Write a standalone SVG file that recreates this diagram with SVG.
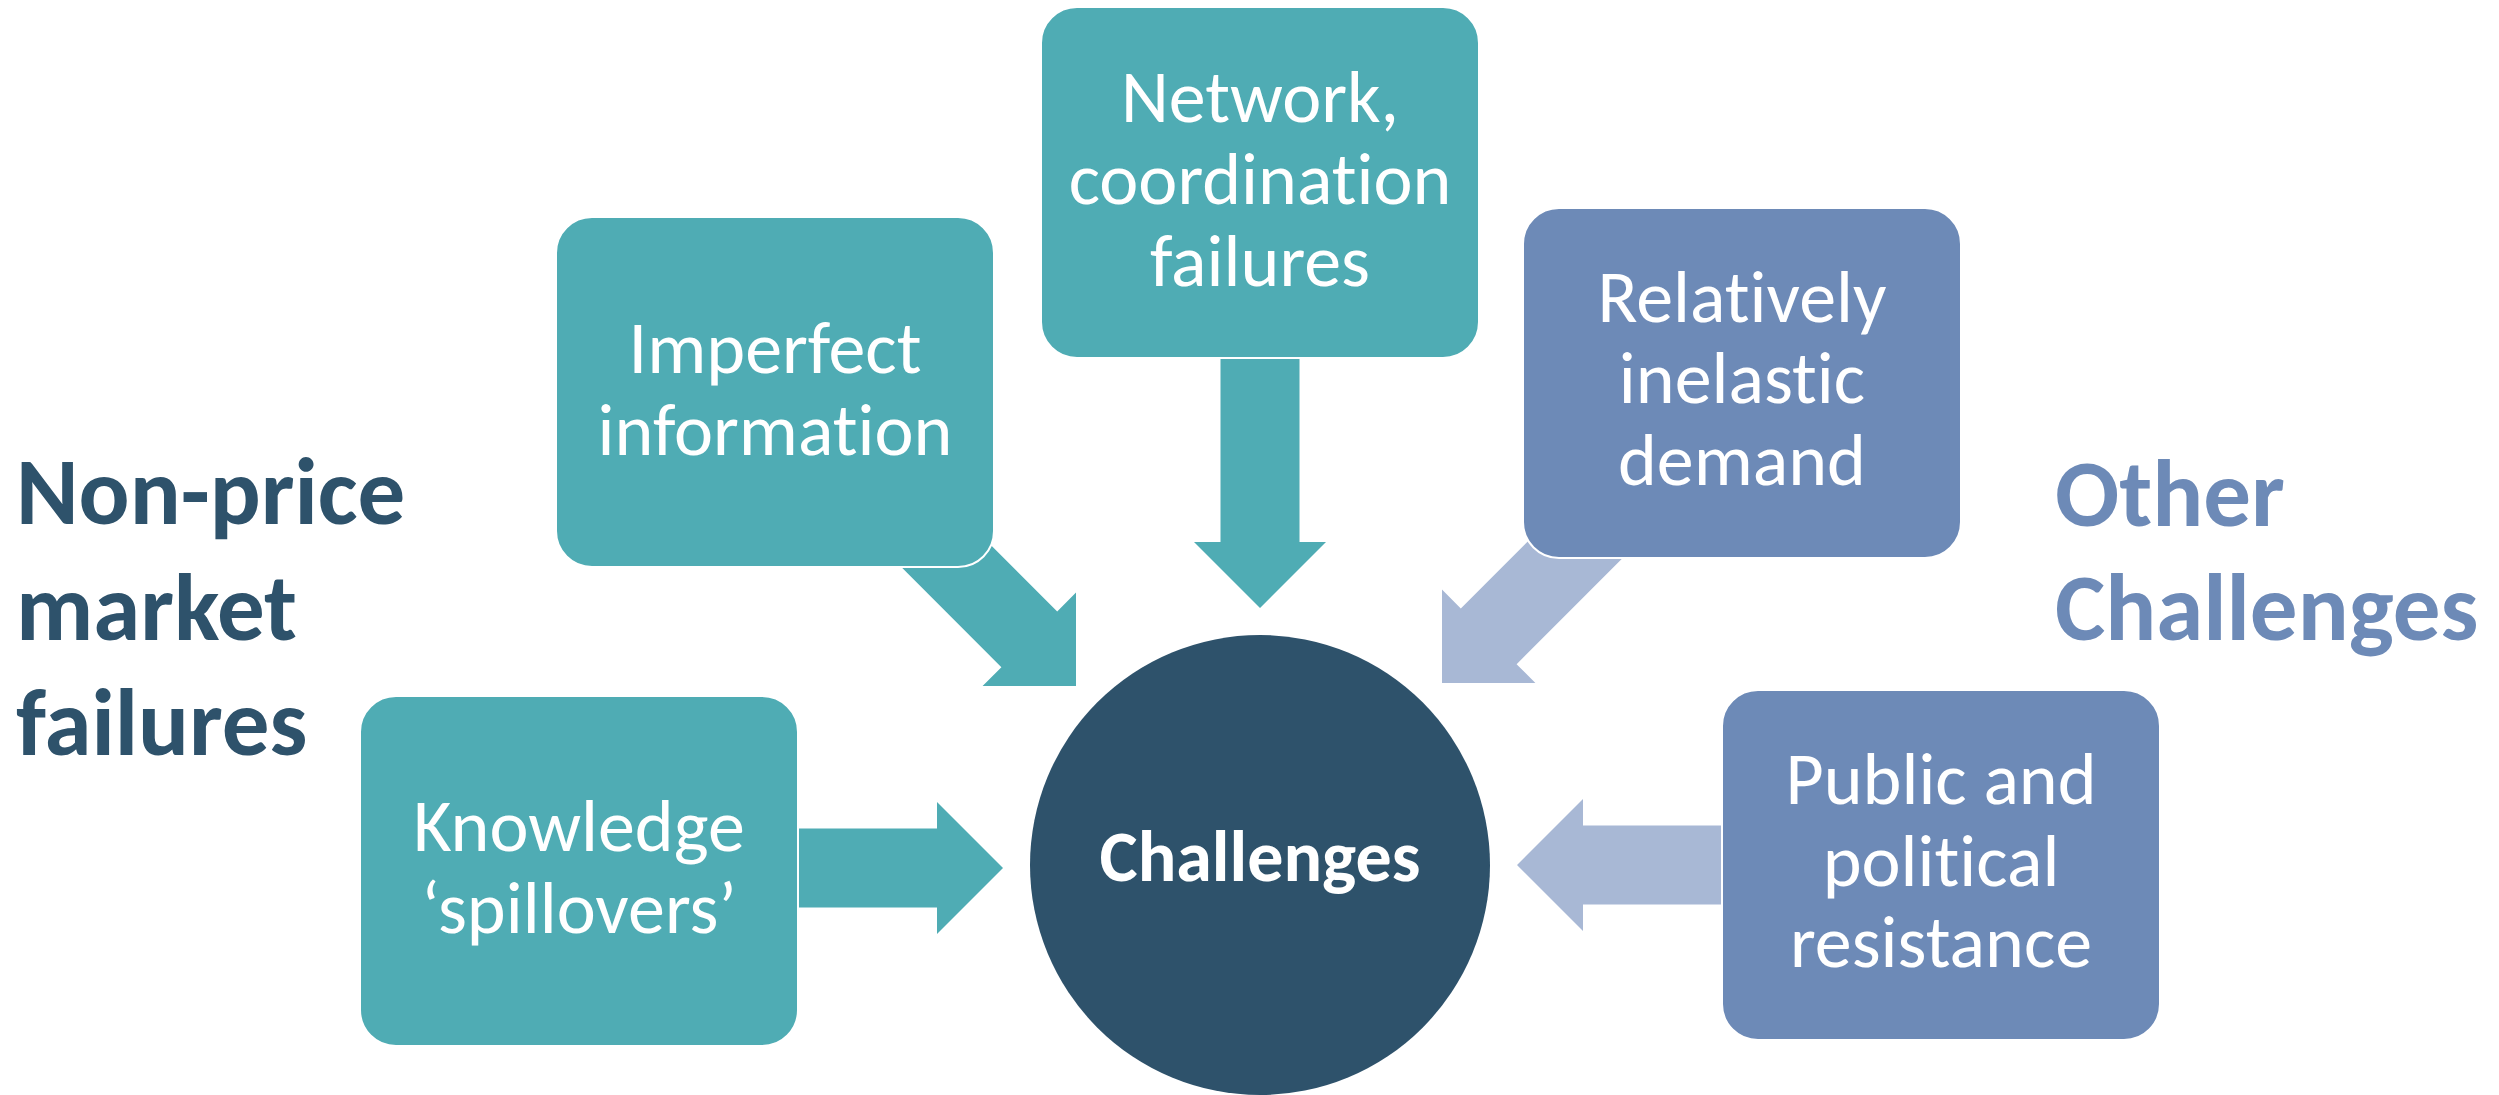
<svg xmlns="http://www.w3.org/2000/svg" width="2499" height="1095" viewBox="0 0 2499 1095">
<style>
text{font-variant-ligatures:none;font-feature-settings:"liga" 0,"clig" 0}
.teal{fill:#4facb4;stroke:#ffffff;stroke-width:2}
.blue{fill:#6d8ab7;stroke:#ffffff;stroke-width:2}
.at{fill:#4facb4}
.ab{fill:#a8b8d5}
.bt{font-family:"Carlito","Lato","Liberation Sans",sans-serif;font-size:74px;fill:#ffffff;text-anchor:middle}
.hd{font-family:"Carlito","Lato","Liberation Sans",sans-serif;font-weight:bold;font-size:95px}
</style>
<rect width="2499" height="1095" fill="#ffffff"/>
<g id="connectors">
<polygon class="at" points="895.3,561.1 1001.4,667.2 982.6,686 1076,686 1076,592.6 1057.2,611.4 951.1,505.3"/>
<polygon class="at" points="1220.5,356 1299.5,356 1299.5,542 1326,542 1260,608 1194,542 1220.5,542"/>
<polygon class="ab" points="1629.7,551.1 1516.6,664.2 1535.4,683 1442,683 1442,589.6 1460.8,608.4 1573.9,495.3"/>
<polygon class="at" points="797,828.5 937,828.5 937,802 1003,868 937,934 937,907.5 797,907.5"/>
<polygon class="ab" points="1725,825.5 1583,825.5 1583,799 1517,865 1583,931 1583,904.5 1725,904.5"/>
</g>
<g id="imperfect">
<rect class="teal" x="556" y="217" width="438" height="350" rx="36"/>
<text class="bt" x="775" y="373">Imperfect</text>
<text class="bt" x="775" y="455">information</text>
</g>
<g id="network">
<rect class="teal" x="1041" y="7" width="438" height="351" rx="36"/>
<text class="bt" x="1260" y="122">Network,</text>
<text class="bt" x="1260" y="204">coordination</text>
<text class="bt" x="1260" y="286">failures</text>
</g>
<g id="inelastic">
<rect class="blue" x="1523" y="208" width="438" height="350" rx="36"/>
<text class="bt" x="1742" y="322">Relatively</text>
<text class="bt" x="1742" y="403">inelastic</text>
<text class="bt" x="1742" y="485">demand</text>
</g>
<g id="knowledge">
<rect class="teal" x="360" y="696" width="438" height="350" rx="36"/>
<text class="bt" x="579" y="851">Knowledge</text>
<text class="bt" x="579" y="933">‘spillovers’</text>
</g>
<g id="public">
<rect class="blue" x="1722" y="690" width="438" height="350" rx="36"/>
<text class="bt" x="1941" y="804">Public and</text>
<text class="bt" x="1941" y="886">political</text>
<text class="bt" x="1941" y="967">resistance</text>
</g>
<g id="challenges">
<circle cx="1260" cy="865" r="230" fill="#2e526b"/>
<text x="1260" y="881" text-anchor="middle" font-family="Carlito, Lato, 'Liberation Sans', sans-serif" font-weight="bold" font-size="72" fill="#ffffff">Challenges</text>
</g>
<g id="label-left">
<text class="hd" fill="#2e526b" x="16" y="524">Non-price</text>
<text class="hd" fill="#2e526b" x="16" y="640">market</text>
<text class="hd" fill="#2e526b" x="16" y="755">failures</text>
</g>
<g id="label-right">
<text class="hd" fill="#6d8ab7" x="2055" y="526">Other</text>
<text class="hd" fill="#6d8ab7" x="2055" y="640">Challenges</text>
</g>
</svg>
